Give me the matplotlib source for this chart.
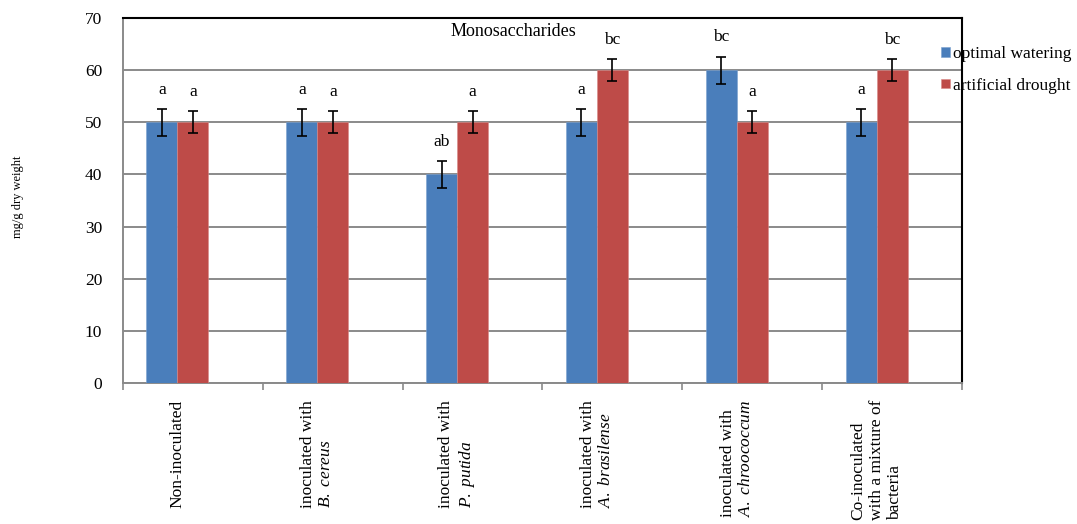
import matplotlib
matplotlib.use("Agg")
import matplotlib.pyplot as plt
import numpy as np

plt.rcParams['font.family'] = ['Liberation Serif', 'DejaVu Serif']
plt.rcParams['mathtext.fontset'] = 'custom'
plt.rcParams['mathtext.rm'] = 'Liberation Serif'
plt.rcParams['mathtext.it'] = 'Liberation Serif:italic'

# treatments and measured values
groups = ['Non-inoculated',
          'inoculated with\n$\\mathit{B.\\ cereus}$',
          'inoculated with\n$\\mathit{P.\\ putida}$',
          'inoculated with\n$\\mathit{A.\\ brasilense}$',
          'inoculated with\n$\\mathit{A.\\ chroococcum}$',
          'Co-inoculated\nwith a mixture of\nbacteria']
optimal = [50, 50, 40, 50, 60, 50]
drought = [50, 50, 50, 60, 50, 60]
optimal_err = [2.6, 2.6, 2.6, 2.6, 2.6, 2.6]
drought_err = [2.1, 2.1, 2.1, 2.1, 2.1, 2.1]
optimal_letters = ['a', 'a', 'ab', 'a', 'bc', 'a']
drought_letters = ['a', 'a', 'a', 'bc', 'a', 'bc']

blue = '#4a7ebb'
red = '#be4b48'
grid_gray = '#8a8a8a'

fig = plt.figure(figsize=(10.77, 5.24), dpi=100)
ax = fig.add_axes([123 / 1077, 1 - 383 / 524, 839 / 1077, 365 / 524])

x = np.arange(len(groups))
w = 0.2214  # three slots per category, third one is empty

ax.bar(x - w, optimal, w, color=blue, edgecolor='#7aa0cf', linewidth=0.4,
       label='optimal watering', zorder=3)
ax.bar(x, drought, w, color=red, edgecolor='#d98a88', linewidth=0.4,
       label='artificial drought', zorder=3)
ax.errorbar(x - w, optimal, yerr=optimal_err, fmt='none', ecolor='black',
            elinewidth=1.2, capsize=3.3, capthick=1.2, zorder=4)
ax.errorbar(x, drought, yerr=drought_err, fmt='none', ecolor='black',
            elinewidth=1.2, capsize=3.3, capthick=1.2, zorder=4)

for i in range(len(groups)):
    ax.text(x[i] - w, optimal[i] + optimal_err[i] + 2.9, optimal_letters[i],
            ha='center', va='baseline', fontsize=12.5)
    ax.text(x[i], drought[i] + drought_err[i] + 2.9, drought_letters[i],
            ha='center', va='baseline', fontsize=12.5)

ax.set_xlim(-0.5, len(groups) - 0.5)
ax.set_ylim(0, 70)
ax.set_yticks(np.arange(0, 71, 10))
ax.yaxis.grid(True, color=grid_gray, linewidth=1.4, zorder=0)
ax.tick_params(axis='y', length=0, pad=15, labelsize=12.5)

# category boundaries get tick marks, labels sit under the bar pairs
ax.set_xticks(np.arange(-0.5, len(groups)), labels=[])
ax.set_xticks(x - w / 2, labels=groups, minor=True)
ax.tick_params(axis='x', which='major', length=5, width=1.2, color=grid_gray)
ax.tick_params(axis='x', which='minor', length=0, pad=12, labelsize=12.5)
for lab in ax.get_xticklabels(minor=True):
    lab.set_rotation(90)
    lab.set_ha('center')
    lab.set_va('top')
    lab.set_multialignment('left')

ax.spines['left'].set_color(grid_gray)
ax.spines['bottom'].set_color(grid_gray)
ax.spines['left'].set_linewidth(1.4)
ax.spines['bottom'].set_linewidth(1.4)
ax.spines['top'].set_color('black')
ax.spines['right'].set_color('black')
ax.spines['top'].set_linewidth(1.5)
ax.spines['right'].set_linewidth(1.5)

ax.text(0.465, 0.963, 'Monosaccharides', transform=ax.transAxes,
        ha='center', va='center', fontsize=13)

fig.text(18 / 1077, 1 - 197 / 524, 'mg/g dry weight', rotation=90,
         ha='center', va='center', fontsize=9)

leg = ax.legend(loc='upper left', bbox_to_anchor=(941 / 1077, 1 - 46 / 524),
                bbox_transform=fig.transFigure, frameon=False, fontsize=12.5,
                handlelength=0.5, handleheight=0.5, handletextpad=0.2,
                labelspacing=0.9, borderpad=0, borderaxespad=0)

fig.savefig('out.png', dpi=100)
